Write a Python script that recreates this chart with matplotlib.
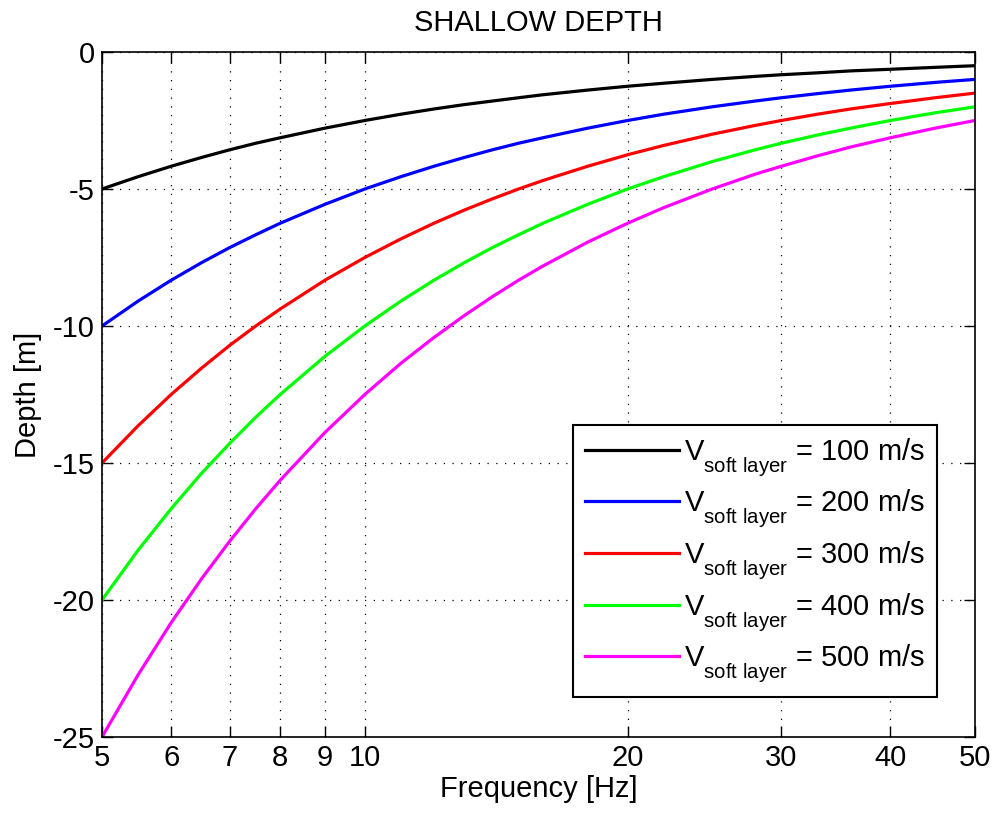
import matplotlib
matplotlib.use("Agg")
import matplotlib.pyplot as plt
from matplotlib.ticker import FixedLocator, NullLocator, FixedFormatter
try:
    import matplotlib._mathtext as _mt
    _mt.FontConstantsBase.sub1 = 0.8
except Exception:
    pass

plt.rcParams['font.family'] = ['Liberation Sans', 'DejaVu Sans']
plt.rcParams['mathtext.fontset'] = 'custom'
plt.rcParams['mathtext.rm'] = 'Liberation Sans'
plt.rcParams['mathtext.it'] = 'Liberation Sans'

freq = [5, 5.5, 6, 6.5, 7, 7.5, 8, 9, 10, 11, 12, 13, 14, 15, 16, 18, 20, 22,
        25, 28, 30, 33, 36, 40, 45, 50]
depth_100 = [-5.0, -4.55, -4.17, -3.85, -3.57, -3.33, -3.13, -2.78, -2.5, -2.27, -2.08,
             -1.92, -1.79, -1.67, -1.56, -1.39, -1.25, -1.14, -1.0, -0.89, -0.83, -0.76,
             -0.69, -0.63, -0.56, -0.5]
depth_200 = [-10.0, -9.09, -8.33, -7.69, -7.14, -6.67, -6.25, -5.56, -5.0, -4.55, -4.17,
             -3.85, -3.57, -3.33, -3.13, -2.78, -2.5, -2.27, -2.0, -1.79, -1.67, -1.52,
             -1.39, -1.25, -1.11, -1.0]
depth_300 = [-15.0, -13.64, -12.5, -11.54, -10.71, -10.0, -9.38, -8.33, -7.5, -6.82, -6.25,
             -5.77, -5.36, -5.0, -4.69, -4.17, -3.75, -3.41, -3.0, -2.68, -2.5, -2.27,
             -2.08, -1.88, -1.67, -1.5]
depth_400 = [-20.0, -18.18, -16.67, -15.38, -14.29, -13.33, -12.5, -11.11, -10.0, -9.09,
             -8.33, -7.69, -7.14, -6.67, -6.25, -5.56, -5.0, -4.55, -4.0, -3.57, -3.33,
             -3.03, -2.78, -2.5, -2.22, -2.0]
depth_500 = [-25.0, -22.73, -20.83, -19.23, -17.86, -16.67, -15.63, -13.89, -12.5, -11.36,
             -10.42, -9.62, -8.93, -8.33, -7.81, -6.94, -6.25, -5.68, -5.0, -4.46, -4.17,
             -3.79, -3.47, -3.13, -2.78, -2.5]
velocities = [100, 200, 300, 400, 500]
colors = ['#000000', '#0000ff', '#ff0000', '#00ff00', '#ff00ff']
x_ticks = [5, 6, 7, 8, 9, 10, 20, 30, 40, 50]
x_ticklabels = ['5', '6', '7', '8', '9', '10', '20', '30', '40', '50']
y_ticks = [-25, -20, -15, -10, -5, 0]

FS = 21

fig = plt.figure(figsize=(9.92, 8.18), dpi=100)
ax = fig.add_axes([102/992, 1-737/818, (975-102)/992, (737-52)/818])

series = [depth_100, depth_200, depth_300, depth_400, depth_500]
for v, d, c in zip(velocities, series, colors):
    ax.plot(freq, d, color=c, lw=2.3,
            label=r'$\mathregular{V_{soft\ layer}}$ = %d m/s' % v)

ax.set_xscale('log')
ax.set_xlim(5, 50)
ax.set_ylim(-25, 0)
ax.xaxis.set_major_locator(FixedLocator(x_ticks))
ax.xaxis.set_major_formatter(FixedFormatter(x_ticklabels))
ax.xaxis.set_minor_locator(NullLocator())
ax.set_yticks(y_ticks)
ax.set_yticklabels([str(t) for t in y_ticks])

ax.grid(True, which='major', color='black', linestyle=(0, (1, 6)), lw=0.9)
ax.tick_params(direction='in', length=8, width=1, top=True, right=True,
               labelsize=FS, pad=5, colors='black')
for s in ax.spines.values():
    s.set_linewidth(1.2)

ax.set_title('SHALLOW DEPTH', fontsize=FS, pad=15)
ax.set_xlabel('Frequency [Hz]', fontsize=FS, labelpad=2)
ax.set_ylabel('Depth [m]', fontsize=FS, labelpad=8)

leg = ax.legend(loc='lower right', bbox_to_anchor=(937/992, 1-697/818),
                bbox_transform=fig.transFigure, borderaxespad=0, fontsize=FS,
                handlelength=3.25, handletextpad=0.17, labelspacing=0.31,
                fancybox=False, framealpha=1, edgecolor='black', borderpad=0.4)
leg.get_frame().set_linewidth(1.5)

fig.savefig('out.png', dpi=100)
